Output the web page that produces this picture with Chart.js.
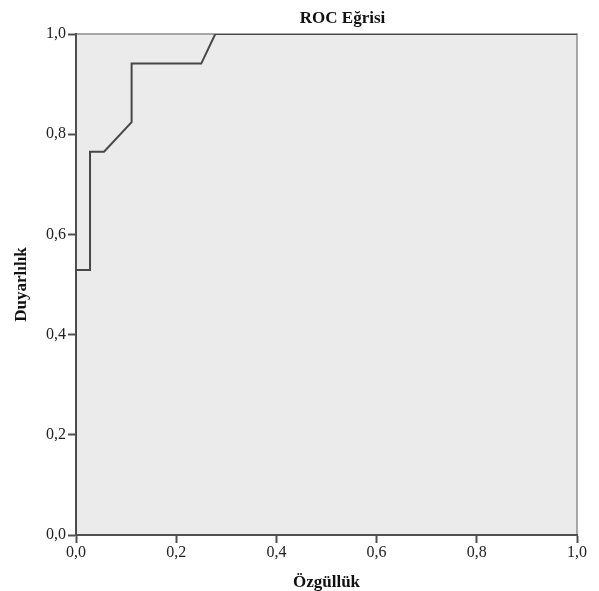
<!DOCTYPE html>
<html>
<head>
<meta charset="utf-8">
<script src="https://cdn.jsdelivr.net/npm/chart.js@4/dist/chart.umd.min.js"></script>
<style>
  html, body { margin: 0; padding: 0; background: #fff; }
  #wrap { width: 599px; height: 591px; }
</style>
</head>
<body>
<div id="wrap"><canvas id="roc" width="599" height="591"></canvas></div>
<script>
const chartTitle = "ROC Eğrisi"
const xTitle = "Özgüllük"
const yTitle = "Duyarlılık"

// 1 - specificity and sensitivity
const falsePositive = [0, 0, 0.028, 0.028, 0.056, 0.111, 0.111, 0.25, 0.278, 1]
const sensitivity = [0, 0.529, 0.529, 0.765, 0.765, 0.824, 0.941, 0.941, 1, 1]

const tickValues = [0, 0.2, 0.4, 0.6, 0.8, 1]
const tickLabels = ["0,0", "0,2", "0,4", "0,6", "0,8", "1,0"]

const serif = "'Liberation Serif', 'Times New Roman', serif"
const axisColor = "#505050"

const points = falsePositive.map((x, i) => ({ x: x, y: sensitivity[i] }))

function tickLabel(value) {
  const i = tickValues.findIndex(v => Math.abs(v - value) < 1e-6)
  return i >= 0 ? tickLabels[i] : ""
}

// plot background, light frame and the title
const plotFrame = {
  id: "plotFrame",
  beforeDraw(chart) {
    const { ctx, chartArea: a } = chart
    ctx.save()
    ctx.fillStyle = "#ebebeb"
    ctx.fillRect(a.left, a.top, a.right - a.left, a.bottom - a.top)
    ctx.strokeStyle = "#8c8c8c"
    ctx.lineWidth = 1.5
    ctx.strokeRect(a.left, a.top, a.right - a.left, a.bottom - a.top)
    ctx.restore()
  },
  afterDraw(chart) {
    const { ctx, chartArea: a } = chart
    ctx.save()
    ctx.font = "bold 17px " + serif
    ctx.fillStyle = "#111"
    ctx.textAlign = "center"
    ctx.textBaseline = "alphabetic"
    ctx.fillText(chartTitle, (a.left + a.right) / 2 + 16, 23)
    ctx.restore()
  }
}

const scaleBase = {
  type: "linear",
  min: 0,
  max: 1,
  grid: {
    drawOnChartArea: false,
    drawTicks: true,
    tickLength: 8,
    tickColor: axisColor,
    tickWidth: 2
  },
  border: { color: axisColor, width: 2 },
  ticks: {
    stepSize: 0.2,
    color: "#222",
    font: { family: serif, size: 16 },
    callback: tickLabel
  }
}

new Chart(document.getElementById("roc"), {
  type: "line",
  data: {
    datasets: [{
      data: points,
      borderColor: "#474747",
      borderWidth: 2,
      pointRadius: 0,
      tension: 0,
      fill: false
    }]
  },
  options: {
    responsive: false,
    animation: false,
    layout: { padding: { top: 34, right: 22, left: 0, bottom: 0 } },
    plugins: {
      legend: { display: false },
      tooltip: { enabled: false }
    },
    scales: {
      x: {
        ...scaleBase,
        ticks: { ...scaleBase.ticks, padding: 0, maxRotation: 0 },
        title: {
          display: true,
          text: xTitle,
          color: "#111",
          font: { family: serif, size: 17, weight: "bold", lineHeight: 1 },
          padding: { top: 0, bottom: 0 }
        },
        afterFit(scale) { scale.height = 56 }
      },
      y: {
        ...scaleBase,
        ticks: { ...scaleBase.ticks, padding: 2 },
        title: {
          display: true,
          text: yTitle,
          color: "#111",
          font: { family: serif, size: 17, weight: "bold" },
          padding: { top: 11, bottom: 0 }
        },
        afterFit(scale) { scale.width = 76 }
      }
    }
  },
  plugins: [plotFrame]
})
</script>
</body>
</html>
